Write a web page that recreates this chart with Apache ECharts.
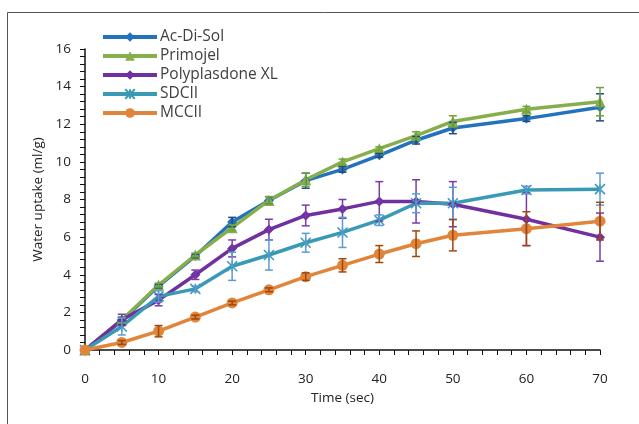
<!DOCTYPE html>
<html>
<head>
<meta charset="utf-8">
<script src="https://cdn.jsdelivr.net/npm/echarts@6/dist/echarts.min.js"></script>
<style>
  html, body { margin: 0; padding: 0; background: #fff; }
  #main { width: 639px; height: 424px; }
</style>
</head>
<body>
<div id="main"></div>
<script>
// time points (sec)
const times = [0, 5, 10, 15, 20, 25, 30, 35, 40, 45, 50, 60, 70]

// mean water uptake (ml/g)
const acDiSol = [0, 1.55, 3.4, 5.0, 6.8, 7.95, 9.0, 9.6, 10.35, 11.15, 11.8, 12.3, 12.9]
const primojel = [0, 1.6, 3.45, 5.05, 6.5, 7.95, 9.05, 10.0, 10.7, 11.4, 12.15, 12.8, 13.2]
const polyplasdone = [0, 1.6, 2.65, 4.0, 5.4, 6.4, 7.15, 7.5, 7.9, 7.9, 7.75, 6.95, 6.0]
const sdcii = [0, 1.25, 2.85, 3.25, 4.45, 5.05, 5.7, 6.25, 6.9, 7.8, 7.8, 8.5, 8.55]
const mccii = [0, 0.4, 1.0, 1.75, 2.5, 3.2, 3.9, 4.5, 5.1, 5.65, 6.1, 6.45, 6.85]

// standard deviations
const acDiSolSd = [0, 0.2, 0.1, 0.1, 0.25, 0.2, 0.4, 0.15, 0.1, 0.2, 0.3, 0.15, 0.72]
const primojelSd = [0, 0.15, 0.1, 0.1, 0.15, 0.2, 0.35, 0.15, 0.1, 0.2, 0.3, 0.15, 0.75]
const polyplasdoneSd = [0, 0.3, 0.3, 0.25, 0.45, 0.55, 0.55, 0.5, 1.05, 1.15, 1.2, 1.4, 1.28]
const sdciiSd = [0, 0.45, 0.3, 0.15, 0.75, 0.8, 0.5, 0.8, 0.28, 0.5, 0.85, 0.2, 0.85]
const mcciiSd = [0, 0.1, 0.3, 0.1, 0.1, 0.1, 0.2, 0.35, 0.45, 0.68, 0.83, 0.9, 1.0]

const starPath = 'path://M0,0L10,10M10,0L0,10M5,0L5,10'

const groups = [
  { name: 'Ac-Di-Sol', mean: acDiSol, sd: acDiSolSd, color: '#2472BE', bar: '#1F4E79', symbol: 'diamond', size: 10 },
  { name: 'Primojel', mean: primojel, sd: primojelSd, color: '#86AE4B', bar: '#70A43C', symbol: 'triangle', size: 11 },
  { name: 'Polyplasdone XL', mean: polyplasdone, sd: polyplasdoneSd, color: '#7030A0', bar: '#7A3BAA', symbol: 'diamond', size: 10 },
  { name: 'SDCII', mean: sdcii, sd: sdciiSd, color: '#3A9AB5', bar: '#5B9BD5', symbol: starPath, size: 10 },
  { name: 'MCCII', mean: mccii, sd: mcciiSd, color: '#E0853A', bar: '#9E480E', symbol: 'circle', size: 11 }
]

const errorRender = (color) => (params, api) => {
  const x = api.value(0)
  const lo = api.coord([x, api.value(1)])
  const hi = api.coord([x, api.value(2)])
  const w = 4
  const style = { stroke: color, lineWidth: 1.5 }
  return {
    type: 'group',
    children: [
      { type: 'line', shape: { x1: lo[0], y1: lo[1], x2: hi[0], y2: hi[1] }, style },
      { type: 'line', shape: { x1: lo[0] - w, y1: lo[1], x2: lo[0] + w, y2: lo[1] }, style },
      { type: 'line', shape: { x1: hi[0] - w, y1: hi[1], x2: hi[0] + w, y2: hi[1] }, style }
    ]
  }
}

let series = []
groups.forEach(g => {
  series.push({
    name: g.name,
    type: 'line',
    data: times.map((t, i) => [t, g.mean[i]]),
    symbol: g.symbol,
    symbolSize: g.size,
    color: g.color,
    lineStyle: { width: 3.5, color: g.color },
    itemStyle: g.symbol === starPath
      ? { color: g.color, borderColor: g.color, borderWidth: 1.5 }
      : { color: g.color },
    z: 3
  })
})
groups.forEach(g => {
  series.push({
    name: g.name + ' err',
    type: 'custom',
    renderItem: errorRender(g.bar),
    data: times.map((t, i) => [t, g.mean[i] - g.sd[i], g.mean[i] + g.sd[i]]).filter((d, i) => g.sd[i] > 0),
    z: 4,
    silent: true
  })
})

let chart = echarts.init(document.getElementById('main'))
chart.setOption({
  animation: false,
  textStyle: { fontFamily: 'Open Sans' },
  graphic: [{
    type: 'rect',
    shape: { x: 7.5, y: 12.5, width: 800, height: 600 },
    style: { fill: 'none', stroke: '#555', lineWidth: 1 },
    silent: true
  }],
  legend: {
    data: groups.map(g => g.name),
    orient: 'vertical',
    left: 96,
    top: 24,
    itemWidth: 54,
    itemHeight: 12,
    itemGap: 3,
    lineStyle: { width: 4 },
    textStyle: { fontSize: 15.5, color: '#404040', padding: [0, 0, 0, -2] }
  },
  grid: { left: 85, right: 39, top: 49, bottom: 74 },
  xAxis: {
    type: 'value',
    min: 0,
    max: 70,
    interval: 10,
    name: 'Time (sec)',
    nameLocation: 'middle',
    nameGap: 39,
    nameTextStyle: { fontSize: 13.5, color: '#222' },
    axisLine: { lineStyle: { color: '#111', width: 1.5 } },
    axisTick: { length: 5, lineStyle: { color: '#111' } },
    minorTick: { show: true, splitNumber: 5, length: 5, lineStyle: { color: '#111' } },
    axisLabel: { fontSize: 13.5, color: '#222', margin: 22 },
    splitLine: { show: false }
  },
  yAxis: {
    type: 'value',
    min: 0,
    max: 16,
    interval: 2,
    name: 'Water uptake (ml/g)',
    nameLocation: 'middle',
    nameGap: 40,
    nameTextStyle: { fontSize: 13.5, color: '#222' },
    axisLine: { show: true, lineStyle: { color: '#111', width: 1.5 } },
    axisTick: { show: true, length: 5, lineStyle: { color: '#111' } },
    minorTick: { show: true, splitNumber: 5, length: 5, lineStyle: { color: '#111' } },
    axisLabel: { fontSize: 13.5, color: '#222', margin: 14 },
    splitLine: { show: false }
  },
  series: series
})
</script>
</body>
</html>
